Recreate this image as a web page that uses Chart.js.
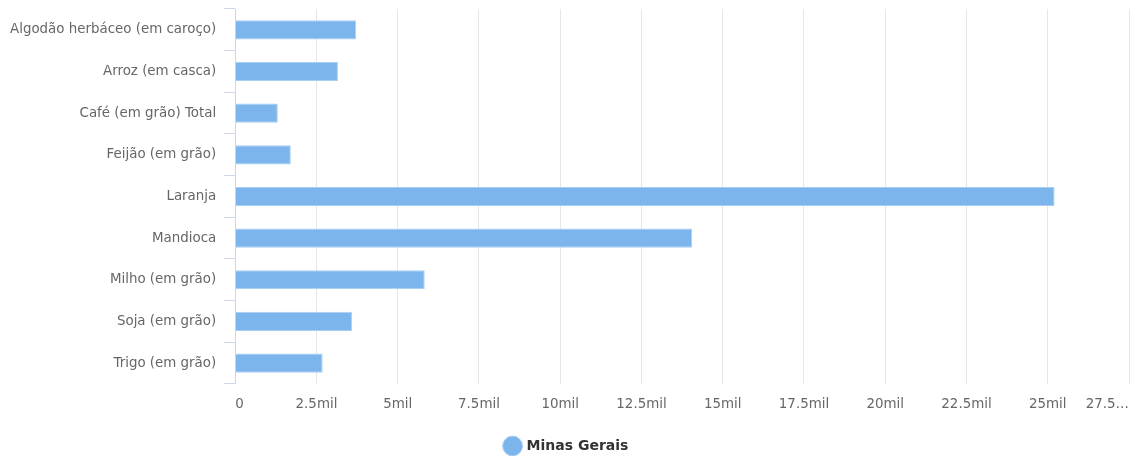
<!DOCTYPE html>
<html>
<head>
<meta charset="utf-8">
<script src="https://cdn.jsdelivr.net/npm/chart.js@4/dist/chart.umd.min.js"></script>
<style>
  html, body { margin: 0; padding: 0; background: #fff; overflow: hidden; }
  #wrap { width: 1132px; height: 456px; position: relative; }
</style>
</head>
<body>
<div id="wrap"><canvas id="prodChart"></canvas></div>
<script>
// values in thousands of units (mil)
const categories = [
  "Algodão herbáceo (em caroço)",
  "Arroz (em casca)",
  "Café (em grão) Total",
  "Feijão (em grão)",
  "Laranja",
  "Mandioca",
  "Milho (em grão)",
  "Soja (em grão)",
  "Trigo (em grão)"
];
const seriesName = "Minas Gerais";
const minasGerais = [3.72, 3.16, 1.31, 1.71, 25.21, 14.06, 5.83, 3.60, 2.69];
const xMax = 27.5;
const xStep = 2.5;

function tickLabel(value) {
  if (value === 0) return "0";
  if (value >= xMax) return value + "…";
  return value + "mil";
}

window.onload = function () {
  const ctx = document.getElementById("prodChart").getContext("2d");
  new Chart(ctx, {
    type: "bar",
    data: {
      labels: categories,
      datasets: [{
        label: seriesName,
        data: minasGerais,
        backgroundColor: "#7cb5ec",
        borderColor: "#a9cef3",
        borderWidth: 1,
        barPercentage: 0.46,
        categoryPercentage: 1
      }]
    },
    options: {
      indexAxis: "y",
      responsive: true,
      maintainAspectRatio: false,
      animation: false,
      layout: { padding: { top: 9, left: 2, right: 0, bottom: -7 } },
      plugins: {
        tooltip: { enabled: false },
        legend: {
          position: "bottom",
          labels: {
            usePointStyle: true,
            pointStyle: "circle",
            boxWidth: 14,
            boxHeight: 14,
            padding: 14,
            color: "#333333",
            font: { family: "DejaVu Sans", size: 14, weight: "bold" }
          }
        }
      },
      scales: {
        x: {
          min: 0,
          max: xMax,
          afterFit: function (scale) {
            scale.height += 9; // room between tick labels and legend
          },
          grid: { color: "#e6e6e6", drawTicks: true, tickLength: 10, tickColor: "rgba(0,0,0,0)" },
          border: { display: false },
          ticks: {
            stepSize: xStep,
            align: "inner",
            padding: 3,
            color: "#666666",
            font: { family: "DejaVu Sans", size: 13.4 },
            callback: tickLabel
          }
        },
        y: {
          afterFit: function (scale) {
            // labels sit between categories, no extra room needed above/below
            scale.paddingTop = 0;
            scale.paddingBottom = 0;
          },
          grid: {
            drawOnChartArea: false,
            drawTicks: true,
            tickLength: 11,
            color: "#ccd6eb",
            offset: true
          },
          border: { display: true, color: "#ccd6eb" },
          ticks: {
            padding: 8,
            color: "#666666",
            font: { family: "DejaVu Sans", size: 13.4 }
          }
        }
      }
    }
  });
};
</script>
</body>
</html>
